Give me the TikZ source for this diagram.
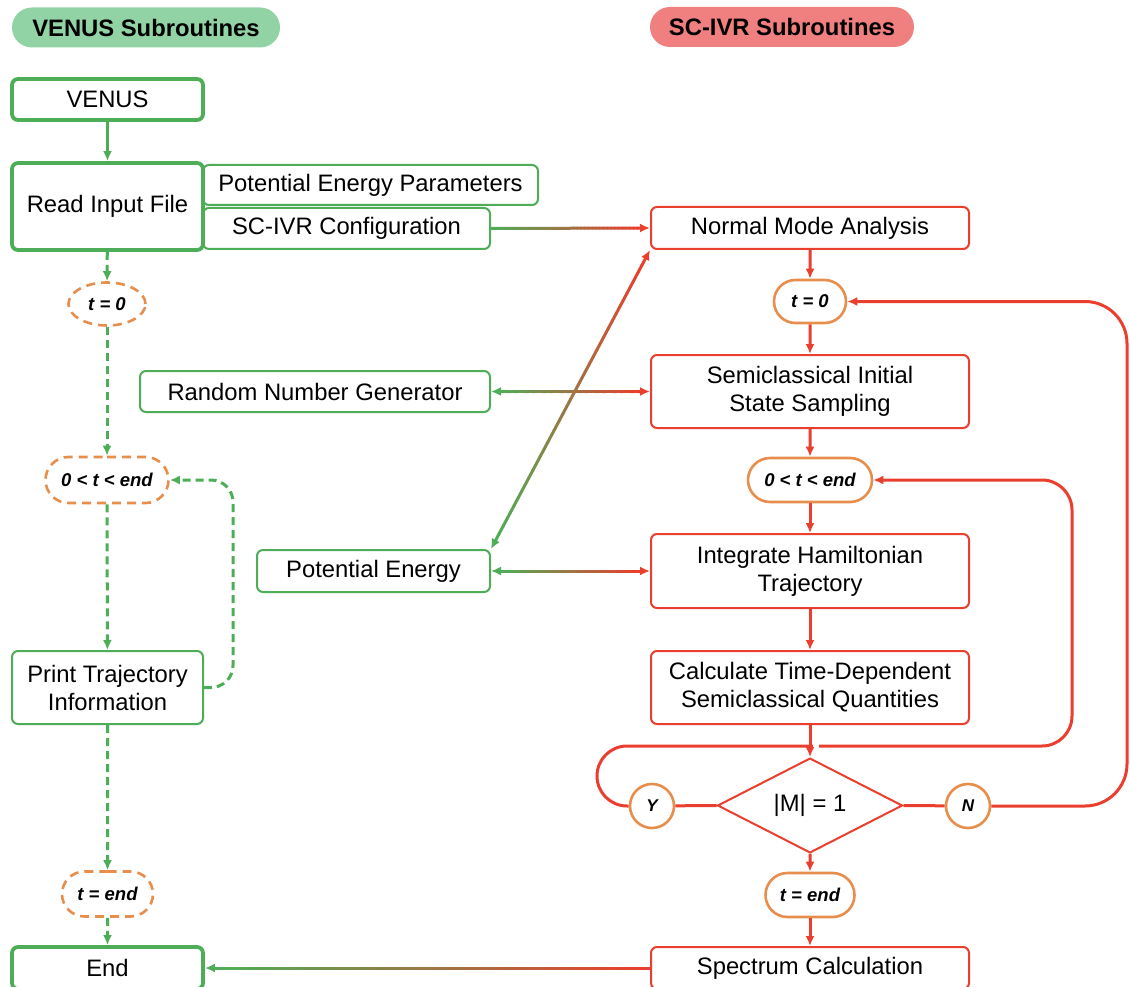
\documentclass[tikz,border=0pt]{standalone}
\usepackage{fontspec}
\setmainfont{Liberation Sans}
\usetikzlibrary{shapes.geometric,shapes.misc,arrows.meta,calc}
\definecolor{vgreen}{RGB}{78,174,88}
\definecolor{vred}{RGB}{234,62,46}
\definecolor{vorange}{RGB}{231,142,76}
\definecolor{tgreen}{RGB}{146,211,166}
\definecolor{tred}{RGB}{240,128,128}
\tikzset{
  sz/.style 2 args={minimum width=#1pt, minimum height=#2pt},
  base/.style={rectangle, rounded corners=6pt, inner sep=0pt, align=center,
    font=\fontsize{23.8}{28}\selectfont, text=black},
  gbox/.style={base, draw=vgreen, line width=2pt},
  gthick/.style={base, draw=vgreen, line width=3.8pt},
  rbox/.style={base, draw=vred, line width=2pt},
  tfont/.style={font=\fontsize{18.5}{20}\selectfont\bfseries\itshape},
  tdash/.style={rounded rectangle, draw=vorange, line width=2.6pt,
    dash pattern=on 9pt off 6pt, inner sep=0pt, tfont},
  tdashell/.style={ellipse, draw=vorange, line width=2.6pt,
    dash pattern=on 9pt off 6pt, inner sep=0pt, tfont},
  tsolid/.style={rounded rectangle, draw=vorange, line width=2.6pt, inner sep=0pt, tfont},
  yn/.style={circle, draw=vorange, line width=2.6pt, minimum size=44pt, inner sep=0pt,
    font=\fontsize{17}{19}\selectfont\bfseries\itshape},
  titlepill/.style={rounded rectangle, inner sep=0pt, font=\fontsize{23.8}{26}\selectfont\bfseries},
  dia/.style={diamond, draw=vred, line width=2pt, inner sep=0pt,
    font=\fontsize{23.8}{28}\selectfont},
  tipL/.style={-{Latex[length=10pt,width=9pt]}},
  garr/.style={vgreen, line width=3pt, tipL},
  gdash/.style={garr, dash pattern=on 8pt off 5pt},
  rarr/.style={vred, line width=3pt, tipL},
  rline/.style={vred, line width=3pt},
}
\newcommand{\gradseg}[4]{%
  \foreach \k in {0,...,39}{%
    \pgfmathsetmacro\ga{\k/40}%
    \pgfmathsetmacro\gb{(\k+1)/40}%
    \pgfmathtruncatemacro\gp{round(\k*100/39)}%
    \draw[line width=3pt, line cap=round, color=#4!\gp!#3] ($(#1)!\ga!(#2)$) -- ($(#1)!\gb!(#2)$);
  }}
\begin{document}
\begin{tikzpicture}[x=1pt,y=-1pt]
\useasboundingbox[fill=white] (0,0) rectangle (1130,987);

% titles
\node[titlepill, fill=tgreen, sz={268}{40}] (T1) at (146,27.5) {VENUS Subroutines};
\node[titlepill, fill=tred, sz={264}{40}] (T2) at (782,27) {SC-IVR Subroutines};

% left column
\node[gthick, sz={191}{41}] (VEN) at (107.5,99.5) {VENUS};
\node[gthick, sz={191}{87}] (RIF) at (107.5,206.5) {Read Input File};
\node[gbox, sz={335}{40}] (PEP) at (370.5,185) {Potential Energy Parameters};
\node[gbox, sz={287}{41}] (SCC) at (346.5,228.5) {SC-IVR Configuration};
\node[tdashell, sz={77}{43}] (tL0) at (107,304) {t = 0};
\node[tdash, sz={123}{46}] (tLm) at (107,480) {0 < t < end};
\node[gbox, sz={191}{73}] (PTI) at (107.5,687.5) {Print Trajectory\\Information};
\node[tdash, sz={91}{45}] (tLe) at (107.5,894) {t = end};
\node[gthick, sz={191}{42}] (END) at (107.5,968) {End};

\node[gbox, sz={350}{41}] (RNG) at (315,391.5) {Random Number Generator};
\node[gbox, sz={233}{42}] (PE) at (373.5,571) {Potential Energy};

% right column
\node[rbox, sz={318}{42}] (NMA) at (810,228) {Normal Mode Analysis};
\node[tsolid, sz={72}{43}] (tR0) at (810,301.5) {t = 0};
\node[rbox, sz={318}{73}] (SIS) at (810,391.5) {Semiclassical Initial\\State Sampling};
\node[tsolid, sz={124}{44}] (tRm) at (810,480) {0 < t < end};
\node[rbox, sz={318}{74}] (IHT) at (810,571) {Integrate Hamiltonian\\Trajectory};
\node[rbox, sz={318}{73}] (CTD) at (810,687.5) {Calculate Time-Dependent\\Semiclassical Quantities};
\node[dia, minimum width=185pt, minimum height=75pt] (DIA) at (810,805.5) {|M| = 1};
\node[yn] (Y) at (652,806) {Y};
\node[yn] (N) at (968,806) {N};
\node[tsolid, sz={89}{44}] (tRe) at (810,895) {t = end};
\node[rbox, sz={318}{42}] (SPC) at (810,968) {Spectrum Calculation};

% left connectors
\draw[garr] (VEN) -- (RIF);
\draw[gdash] (RIF) -- (tL0);
\draw[gdash] (tL0) -- (tLm);
\draw[gdash] (tLm) -- (PTI);
\draw[gdash] (PTI) -- (tLe);
\draw[gdash] (tLe) -- (END);
\coordinate (ll) at (233,0);
\draw[gdash, rounded corners=22pt] (PTI.east) -- (PTI.east -| ll) -- (tLm.east -| ll) -- (tLm.east);

% right connectors
\draw[rarr] (NMA) -- (tR0);
\draw[rarr] (tR0) -- (SIS);
\draw[rarr] (SIS) -- (tRm);
\draw[rarr] (tRm) -- (IHT);
\draw[rarr] (IHT) -- (CTD);
\draw[rarr] (DIA) -- (tRe);
\draw[rarr] (tRe) -- (SPC);
\draw[rline] (Y) -- (DIA.west);
\draw[rline] (DIA.east) -- (N);

\coordinate (nr) at (1127,0);
\draw[rarr, rounded corners=42pt] (N.east) -- (N.east -| nr) -- (tR0.east -| nr) -- (tR0.east);
\coordinate (yl) at (597,746);
\coordinate (yr) at (1072,0);
\draw[rarr, rounded corners=30pt] (Y.west) -- (Y.west -| yl) -- (yl) -- (yl -| yr) -- (tRm.east -| yr) -- (tRm.east);
\fill[white] (812.5,742) rectangle (818.5,750);
\draw[rarr] (CTD) -- (DIA);

% gradient connectors
% SC-IVR Configuration -> Normal Mode Analysis
\coordinate (a1) at (SCC.east);
\coordinate (b1) at ($(NMA.west)!9pt!(SCC.east)$);
\gradseg{a1}{b1}{vgreen}{vred}
\draw[rarr] (b1) -- (NMA.west);
% Random Number Generator <-> Semiclassical Initial State Sampling
\coordinate (a2) at ($(RNG.east)!9pt!(SIS.west)$);
\coordinate (b2) at ($(SIS.west)!9pt!(RNG.east)$);
\gradseg{a2}{b2}{vgreen}{vred}
\draw[garr] (a2) -- (RNG.east);
\draw[rarr] (b2) -- (SIS.west);
% Potential Energy <-> Integrate Hamiltonian Trajectory
\coordinate (a3) at ($(PE.east)!9pt!(IHT.west)$);
\coordinate (b3) at ($(IHT.west)!9pt!(PE.east)$);
\gradseg{a3}{b3}{vgreen}{vred}
\draw[garr] (a3) -- (PE.east);
\draw[rarr] (b3) -- (IHT.west);
% Potential Energy <-> Normal Mode Analysis
\coordinate (a4) at ($(PE.north east)!9pt!(NMA.south west)$);
\coordinate (b4) at ($(NMA.south west)!9pt!(PE.north east)$);
\gradseg{a4}{b4}{vgreen}{vred}
\draw[garr] (a4) -- (PE.north east);
\draw[rarr] (b4) -- (NMA.south west);
% Spectrum Calculation -> End
\coordinate (a5) at (SPC.west);
\coordinate (b5) at ($(END.east)!9pt!(SPC.west)$);
\gradseg{a5}{b5}{vred}{vgreen}
\draw[garr] (b5) -- (END.east);
\end{tikzpicture}
\end{document}
